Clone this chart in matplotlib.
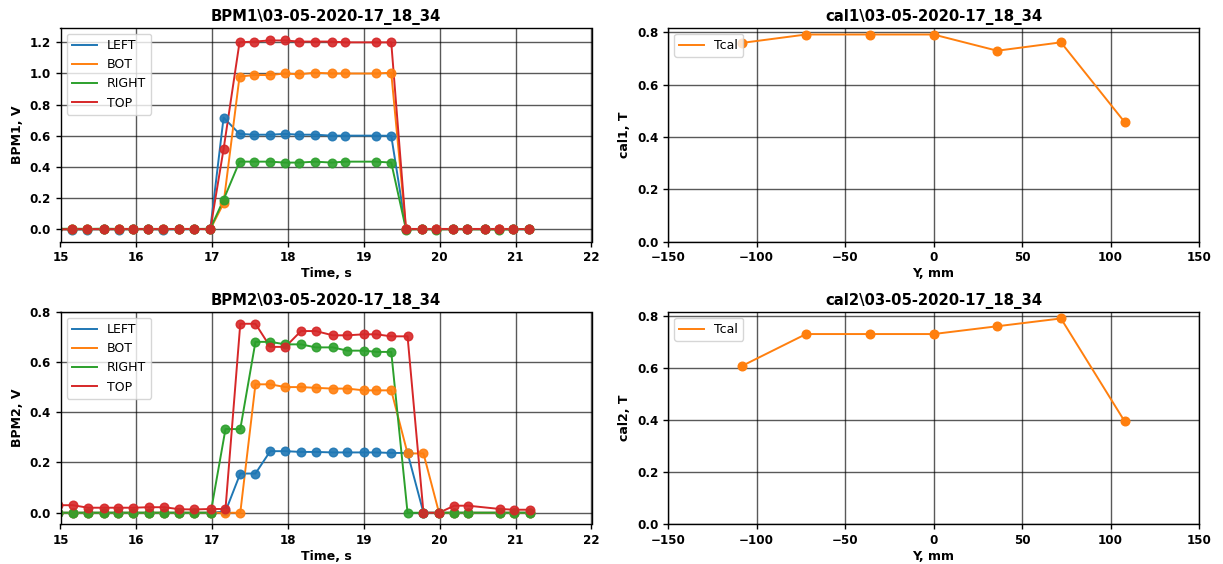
import matplotlib
matplotlib.use("Agg")
import matplotlib.pyplot as plt

# ---- data ----
t1 = [14.96, 15.155, 15.35, 15.58, 15.77, 15.955, 16.15, 16.35, 16.56, 16.76, 16.975,
      17.15, 17.36, 17.55, 17.76, 17.955, 18.15, 18.355, 18.575, 18.75, 19.16, 19.36,
      19.555, 19.765, 19.95, 20.17, 20.36, 20.59, 20.78, 20.96, 21.18]
left1 = [0.0, -0.002, -0.002, 0.0, -0.002, 0.0, 0.0, -0.002, 0.0, 0.0, 0.002,
         0.717, 0.612, 0.607, 0.607, 0.612, 0.607, 0.607, 0.601, 0.601, 0.601, 0.600,
         0.0, 0.0, 0.0, 0.0, 0.0, 0.0, 0.0, 0.0, 0.0]
bot1 = [0.0, 0.0, 0.0, 0.0, 0.0, 0.0, 0.0, 0.0, 0.002, 0.002, 0.0,
        0.167, 0.98, 0.99, 0.99, 1.0, 0.995, 1.005, 1.0, 1.0, 1.0, 1.005,
        0.0, 0.0, 0.0, 0.0, 0.0, 0.0, 0.0, 0.0, 0.003]
right1 = [0.002, 0.004, 0.002, 0.004, 0.002, 0.002, 0.002, 0.002, 0.0, 0.002, 0.003,
          0.19, 0.434, 0.434, 0.434, 0.428, 0.428, 0.434, 0.428, 0.434, 0.434, 0.428,
          -0.002, 0.002, -0.002, 0.002, 0.0, 0.0, -0.002, 0.0, 0.0]
top1 = [0.0, 0.0, 0.002, 0.0, 0.002, 0.002, 0.002, 0.002, 0.002, 0.002, 0.0,
        0.515, 1.2, 1.205, 1.212, 1.212, 1.205, 1.205, 1.205, 1.2, 1.2, 1.2,
        0.002, 0.002, 0.002, 0.002, 0.002, 0.002, 0.002, 0.002, 0.0]

t2 = [14.97, 15.165, 15.36, 15.58, 15.76, 15.96, 16.165, 16.37, 16.565, 16.76, 16.98,
      17.175, 17.37, 17.57, 17.765, 17.965, 18.17, 18.365, 18.59, 18.78, 19.0, 19.165,
      19.36, 19.575, 19.785, 19.99, 20.19, 20.375, 20.79, 20.98, 21.185]
left2 = [0.0, 0.0, 0.0, 0.0, 0.0, 0.0, 0.0, 0.0, 0.0, 0.0, 0.0,
         0.005, 0.156, 0.156, 0.245, 0.245, 0.242, 0.242, 0.24, 0.24, 0.24, 0.24,
         0.238, 0.238, 0.0, 0.0, 0.0, 0.0, 0.0, 0.0, 0.0]
bot2 = [0.0, 0.0, 0.0, 0.0, 0.0, 0.0, 0.0, 0.0, 0.0, 0.0, 0.0,
        0.0, 0.0, 0.511, 0.511, 0.5, 0.5, 0.497, 0.494, 0.494, 0.487, 0.487,
        0.487, 0.236, 0.236, 0.0, 0.0, 0.0, 0.0, 0.0, 0.0]
right2 = [0.0, 0.0, 0.0, 0.0, 0.0, 0.0, 0.0, 0.0, 0.0, 0.0, 0.0,
          0.333, 0.333, 0.68, 0.68, 0.67, 0.67, 0.658, 0.658, 0.645, 0.645, 0.64,
          0.64, 0.0, 0.0, 0.0, 0.0, 0.0, 0.0, 0.0, 0.0]
top2 = [0.03, 0.03, 0.02, 0.02, 0.02, 0.02, 0.022, 0.022, 0.014, 0.013, 0.015,
        0.015, 0.752, 0.752, 0.66, 0.66, 0.723, 0.723, 0.706, 0.706, 0.71, 0.71,
        0.702, 0.702, 0.0, 0.0, 0.028, 0.028, 0.015, 0.012, 0.012]

series_names = ["LEFT", "BOT", "RIGHT", "TOP"]

ypos = [-108, -72, -36, 0, 36, 72, 108]
cal1 = [0.76, 0.792, 0.792, 0.792, 0.73, 0.762, 0.457]
cal2 = [0.61, 0.732, 0.732, 0.732, 0.762, 0.792, 0.396]

title_suffix = "\\03-05-2020-17_18_34"

# ---- figure ----
W, H = 1223, 564
fig = plt.figure(figsize=(W / 100, H / 100), dpi=100)

def rect(l, t, r, b):
    return [l / W, 1 - b / H, (r - l) / W, (b - t) / H]

ax_tl = fig.add_axes(rect(60.5, 27.7, 591.5, 241.7))
ax_bl = fig.add_axes(rect(60.5, 311.7, 591.5, 524.3))
ax_tr = fig.add_axes(rect(668, 27.7, 1199, 241.7))
ax_br = fig.add_axes(rect(668, 311.7, 1199, 524.3))

colors = ["#1f77b4", "#ff7f0e", "#2ca02c", "#d62728"]
lw = 1.4
ms = 6.2

def style(ax):
    ax.grid(True, color="k", alpha=0.65, linewidth=1.0)
    ax.set_axisbelow(True)
    for s in ax.spines.values():
        s.set_linewidth(1.0)
        s.set_color("k")
    ax.tick_params(labelsize=8.6, width=1.0, length=3.5)
    for lab in ax.get_xticklabels() + ax.get_yticklabels():
        lab.set_fontweight("bold")

for ax, t, ys, name, ylim, yt in [
    (ax_tl, t1, [left1, bot1, right1, top1], "BPM1", (-0.08, 1.294), [0.0, 0.2, 0.4, 0.6, 0.8, 1.0, 1.2]),
    (ax_bl, t2, [left2, bot2, right2, top2], "BPM2", (-0.046, 0.8), [0.0, 0.2, 0.4, 0.6, 0.8]),
]:
    for y, lab, c in zip(ys, series_names, colors):
        ax.plot(t, y, "-", color=c, lw=lw, label=lab)
    for y, c in zip(ys, colors):
        ax.plot(t, y, "o", color=c, ms=ms, alpha=0.9)
    ax.set_xlim(15, 22)
    ax.set_ylim(*ylim)
    ax.set_yticks(yt)
    ax.set_xticks(range(15, 23))
    ax.set_title(name + title_suffix, fontsize=10.7, fontweight="bold", pad=5)
    ax.set_xlabel("Time, s", fontsize=9, fontweight="bold", labelpad=2)
    ax.set_ylabel(name + ", V", fontsize=9, fontweight="bold")
    style(ax)
    ax.legend(loc="upper left", fontsize=9)

for ax, vals, name in [(ax_tr, cal1, "cal1"), (ax_br, cal2, "cal2")]:
    ax.plot(ypos, vals, "-", color=colors[1], lw=lw, label="Tcal")
    ax.plot(ypos, vals, "o", color=colors[1], ms=ms)
    ax.set_xlim(-150, 150)
    ax.set_ylim(0, 0.818)
    ax.set_yticks([0.0, 0.2, 0.4, 0.6, 0.8])
    ax.set_xticks([-150, -100, -50, 0, 50, 100, 150])
    ax.set_title(name + title_suffix, fontsize=10.7, fontweight="bold", pad=5)
    ax.set_xlabel("Y, mm", fontsize=9, fontweight="bold", labelpad=2)
    ax.set_ylabel(name + ", T", fontsize=9, fontweight="bold")
    style(ax)
    ax.legend(loc="upper left", fontsize=9)

fig.savefig("out.png", dpi=100)
